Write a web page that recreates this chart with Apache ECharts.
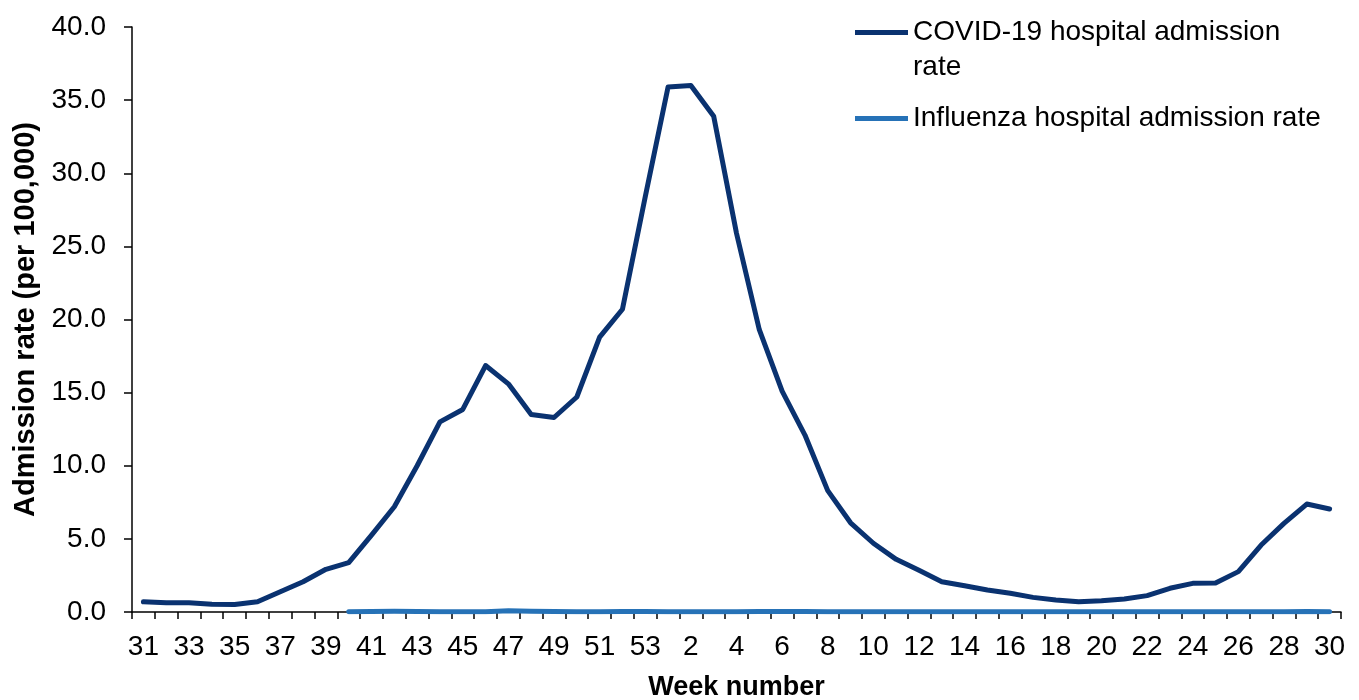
<!DOCTYPE html>
<html>
<head>
<meta charset="utf-8">
<script src="https://cdn.jsdelivr.net/npm/echarts@6/dist/echarts.min.js"></script>
<style>
html,body{margin:0;padding:0;background:#fff;overflow:hidden;}
#chart{width:1359px;height:700px;}
</style>
</head>
<body>
<div id="chart"></div>
<script>
var weeks = ['31','32','33','34','35','36','37','38','39','40','41','42','43','44','45','46','47','48','49','50','51','52','53',
  '1','2','3','4','5','6','7','8','9','10','11','12','13','14','15','16','17','18','19','20','21','22','23','24','25','26','27','28','29','30'];
var covidRate = [0.70,0.64,0.64,0.53,0.52,0.70,1.39,2.07,2.92,3.37,5.26,7.20,10.0,13.0,13.85,16.85,15.6,13.5,13.3,14.7,18.8,20.7,28.4,
  35.9,36.0,33.9,25.9,19.3,15.1,12.1,8.3,6.1,4.7,3.6,2.85,2.07,1.8,1.5,1.28,1.0,0.82,0.70,0.77,0.89,1.12,1.62,1.96,1.98,2.76,4.58,6.06,7.38,7.04];
var fluRate = [null,null,null,null,null,null,null,null,null,0.02,0.03,0.05,0.04,0.02,0.02,0.02,0.08,0.05,0.04,0.02,0.02,0.04,0.03,
  0.02,0.02,0.02,0.02,0.03,0.04,0.03,0.02,0.02,0.02,0.02,0.02,0.02,0.02,0.02,0.02,0.02,0.02,0.02,0.02,0.02,0.02,0.02,0.02,0.02,0.02,0.02,0.02,0.04,0.02];
var seriesNames = ['COVID-19 hospital admission\nrate', 'Influenza hospital admission rate'];
var yTicks = {min: 0, max: 40, interval: 5};

var chart = echarts.init(document.getElementById('chart'));
var font = 'Liberation Sans, Arial, sans-serif';
chart.setOption({
  animation: false,
  backgroundColor: '#ffffff',
  grid: {left: 132, right: 18, top: 27, bottom: 88, containLabel: false, outerBoundsMode: 'none'},
  legend: [{
    orient: 'vertical', left: 850, top: -25,
    itemWidth: 53, itemHeight: 14,
    icon: 'path://M0,0 L53,0 L53,5 L0,5 Z',
    data: [seriesNames[0]],
    formatter: function (n) { return ' \n' + n; },
    textStyle: {fontFamily: font, fontSize: 28, color: '#000', lineHeight: 35}
  }, {
    orient: 'vertical', left: 850, top: 96,
    itemWidth: 53, itemHeight: 14,
    icon: 'path://M0,0 L53,0 L53,5 L0,5 Z',
    data: [seriesNames[1]],
    textStyle: {fontFamily: font, fontSize: 28, color: '#000', lineHeight: 35}
  }],
  xAxis: {
    type: 'category', data: weeks, boundaryGap: true,
    name: 'Week number', nameLocation: 'middle', nameGap: 62,
    nameTextStyle: {fontFamily: font, fontSize: 27, fontWeight: 'bold', color: '#000'},
    axisLine: {lineStyle: {color: '#000', width: 1.5}},
    axisTick: {show: true, interval: 0, length: 7, lineStyle: {color: '#000', width: 1.5}},
    axisLabel: {interval: 1, margin: 21, fontFamily: font, fontSize: 28, color: '#000'},
    splitLine: {show: false}
  },
  yAxis: {
    type: 'value', min: yTicks.min, max: yTicks.max, interval: yTicks.interval,
    name: 'Admission rate (per 100,000)', nameLocation: 'middle', nameGap: 90,
    nameTextStyle: {fontFamily: font, fontSize: 29, fontWeight: 'bold', color: '#000'},
    axisLine: {show: true, lineStyle: {color: '#000', width: 1.5}},
    axisTick: {show: true, length: 8, lineStyle: {color: '#000', width: 1.5}},
    axisLabel: {margin: 26, fontFamily: font, fontSize: 28, color: '#000', formatter: function (v) { return v.toFixed(1); }},
    splitLine: {show: false}
  },
  series: [{
    name: seriesNames[0], type: 'line', data: covidRate, showSymbol: false, symbol: 'none',
    color: '#0a3270',
    lineStyle: {color: '#0a3270', width: 5, cap: 'round', join: 'round'}
  }, {
    name: seriesNames[1], type: 'line', data: fluRate, showSymbol: false, symbol: 'none',
    color: '#2672b7',
    lineStyle: {color: '#2672b7', width: 5, cap: 'round', join: 'round'}
  }]
});
</script>
</body>
</html>
